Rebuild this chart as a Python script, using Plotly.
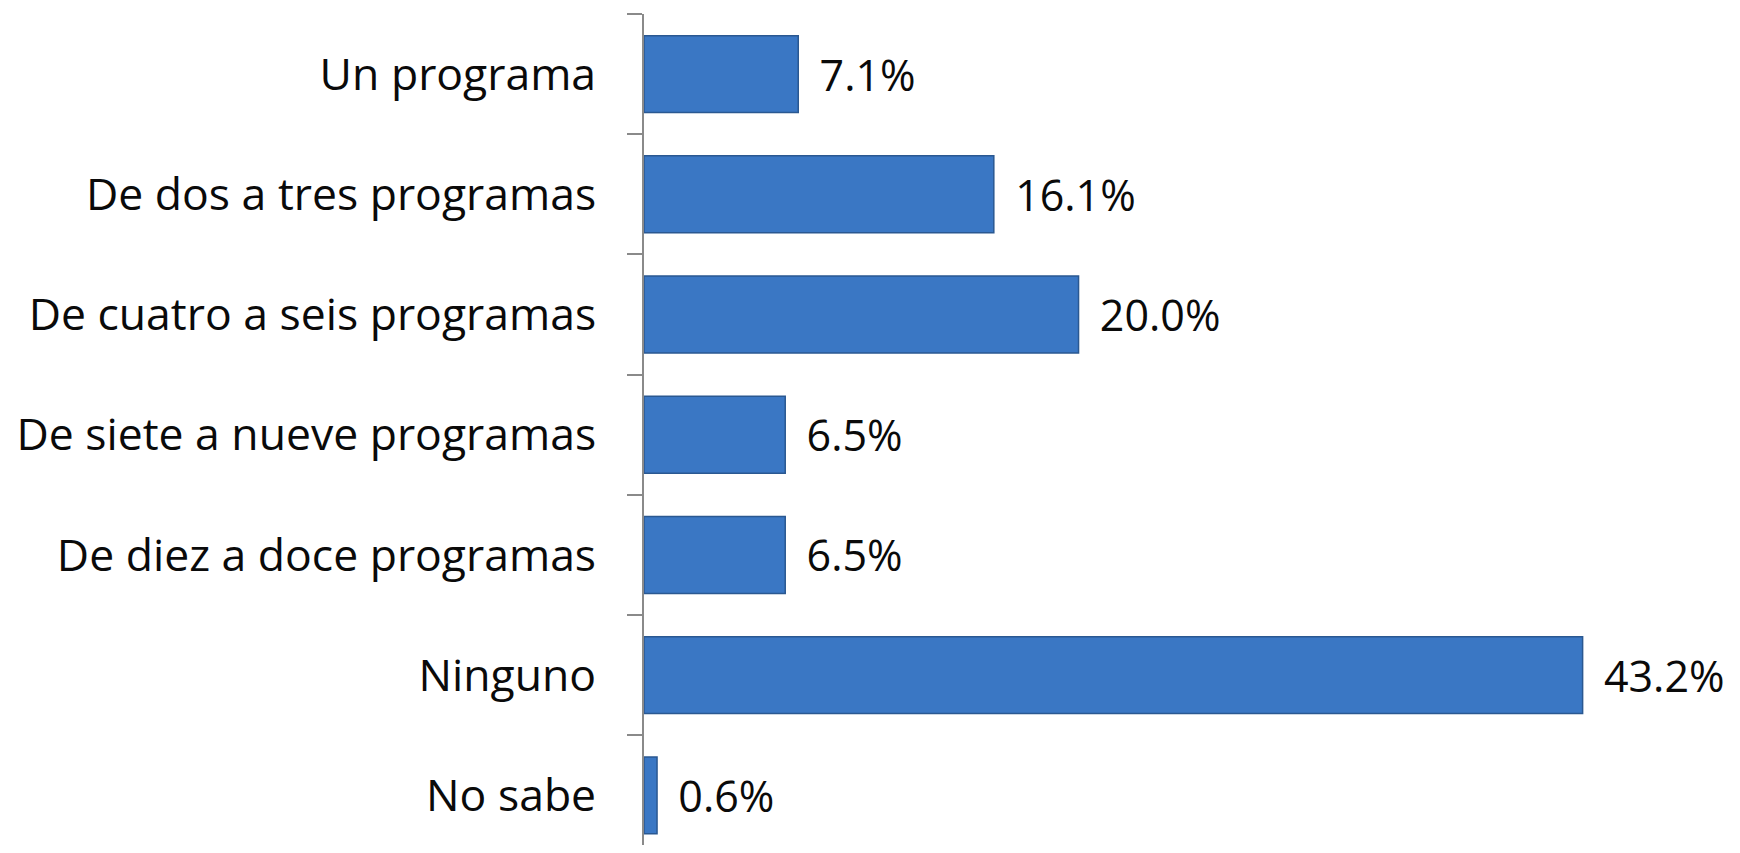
import plotly.graph_objects as go

categories = [
    "Un programa",
    "De dos a tres programas",
    "De cuatro a seis programas",
    "De siete a nueve programas",
    "De diez a doce programas",
    "Ninguno",
    "No sabe",
]
values = [7.1, 16.1, 20.0, 6.5, 6.5, 43.2, 0.6]

font_name = "Open Sans"
axis_gray = "#8a8a8a"

fig = go.Figure(
    go.Bar(
        x=values,
        y=categories,
        orientation="h",
        marker=dict(color="#3a77c4", line=dict(color="#2a5891", width=1.5)),
        texttemplate="\u00a0\u2009%{x:.1f}%",
        textposition="outside",
        textfont=dict(family=font_name, size=43, color="#0a0a0a"),
        constraintext="none",
        cliponaxis=False,
        hoverinfo="skip",
    )
)

# the page body adds 8px around the figure, so the figure is sized to fit inside
fig.update_layout(
    width=1724,
    height=837,
    margin=dict(l=636, r=132, t=6, b=0),
    paper_bgcolor="white",
    plot_bgcolor="white",
    bargap=0.36,
    showlegend=False,
    font=dict(family=font_name, size=44, color="#0a0a0a"),
    xaxis=dict(
        range=[0, 44],
        visible=False,
        showgrid=False,
        zeroline=False,
    ),
    yaxis=dict(
        type="category",
        range=[6.413, -0.5],
        showline=True,
        linecolor=axis_gray,
        linewidth=2,
        ticks="outside",
        tickson="boundaries",
        ticklen=15,
        tickwidth=2,
        tickcolor=axis_gray,
        ticklabelstandoff=37,
        showgrid=False,
        automargin=False,
        tickfont=dict(family=font_name, size=44.5, color="#0a0a0a"),
    ),
)

fig.write_html("out.html")
